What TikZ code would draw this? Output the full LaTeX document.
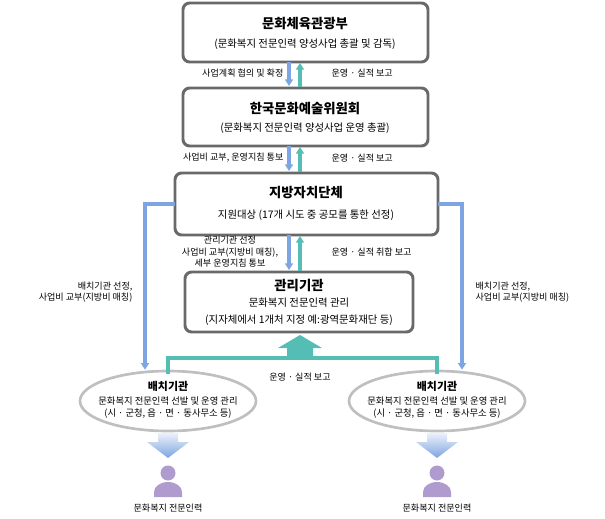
\documentclass[tikz,border=0pt]{standalone}
\usepackage{fontspec}
\setmainfont{Noto Sans CJK KR}
\usetikzlibrary{arrows.meta, shapes.geometric}
\definecolor{flowblue}{RGB}{125,165,225}
\definecolor{flowteal}{RGB}{85,190,180}
\definecolor{boxgray}{RGB}{105,105,105}
\definecolor{personpurple}{RGB}{175,155,205}
\tikzset{
  orgbox/.style={draw=boxgray, line width=2.2pt, rounded corners=5pt, fill=white},
  downflow/.style={draw=flowblue, line width=2.4pt, -{Triangle[width=6pt,length=5pt]}},
  upflow/.style={draw=flowteal, line width=2.4pt, -{Triangle[width=6pt,length=5pt]}},
  lbl/.style={font=\fontsize{6.8}{8.6}\selectfont, align=center, inner sep=1pt},
  ttl/.style={font=\fontsize{10}{11}\selectfont\bfseries, inner sep=0pt},
  sub/.style={font=\fontsize{7.8}{9}\selectfont, inner sep=0pt}
}
\begin{document}
\begin{tikzpicture}[x=0.75pt, y=-0.75pt]
  \useasboundingbox (0,0) rectangle (605,518);

  % boxes
  \draw[orgbox] (183,3) rectangle (428,62);
  \node[ttl] (min) at (305,24) {문화체육관광부};
  \node[sub] (minsub) at (305,44) {(문화복지 전문인력 양성사업 총괄 및 감독)};

  \draw[orgbox] (183,88) rectangle (428,146);
  \node[ttl] (arko) at (305,108) {한국문화예술위원회};
  \node[sub] (arkosub) at (305,128) {(문화복지 전문인력 양성사업 운영 총괄)};

  \draw[orgbox] (175,173) rectangle (438,235);
  \node[ttl] (local) at (306,193) {지방자치단체};
  \node[sub] (localsub) at (306,215) {지원대상 (17개 시도 중 공모를 통한 선정)};

  \draw[orgbox] (185,272) rectangle (413,332);
  \node[ttl] (mgr) at (299,286) {관리기관};
  \node[sub] (mgrsub) at (299,303) {문화복지 전문인력 관리};
  \node[sub] (mgrsub2) at (299,320) {(지자체에서 1개처 지정 예:광역문화재단 등)};

  % vertical flows
  \draw[downflow] (289,62) -- (289,86);
  \draw[upflow] (300,87) -- (300,63);
  \node[lbl, anchor=east] (l1) at (285,73) {사업계획 협의 및 확정};
  \node[lbl, anchor=west] (r1) at (330,73) {운영 · 실적 보고};

  \draw[downflow] (289,146) -- (289,171);
  \draw[upflow] (300,172) -- (300,147);
  \node[lbl, anchor=east] (l2) at (285,158) {사업비 교부, 운영지침 통보};
  \node[lbl, anchor=west] (r2) at (330,158) {운영 · 실적 보고};

  \draw[downflow] (289,235) -- (289,270);
  \draw[upflow] (300,271) -- (300,236);
  \node[lbl] (l3) at (230,252) {관리기관 선정\\사업비 교부(지방비 매칭),\\세부 운영지침 통보};
  \node[lbl, anchor=west] (r3) at (330,252) {운영 · 실적 취합 보고};

  % placement agencies
  \node[ellipse, draw=black!25, line width=2pt, fill=white, minimum width=176pt*0.75, minimum height=60pt*0.75] (pl) at (168,401) {};
  \node[ellipse, draw=black!25, line width=2pt, fill=white, minimum width=176pt*0.75, minimum height=60pt*0.75] (pr) at (437,401) {};
  \foreach \e in {pl,pr}{
    \node[font=\fontsize{8.2}{9}\selectfont\bfseries] at ([yshift=11pt]\e.center) {배치기관};
    \node[lbl, font=\fontsize{7}{8.8}\selectfont] at ([yshift=-5pt]\e.center) {문화복지 전문인력 선발 및 운영 관리\\(시 · 군청, 읍 · 면 · 동사무소 등)};
  }

  % side flows
  \draw[draw=flowblue, line width=2.4pt, -{Triangle[width=6pt,length=5pt]}] (175,204) -- (145,204) -- (pl.north -| 145,0);
  \draw[draw=flowblue, line width=2.4pt, -{Triangle[width=6pt,length=5pt]}] (438,204) -- (462,204) -- (pr.north -| 462,0);
  \node[lbl, align=right, anchor=east] (ls) at (134,292) {배치기관 선정,\\사업비 교부(지방비 매칭)};
  \node[lbl, align=left, anchor=west] (rs) at (474,292) {배치기관 선정,\\사업비 교부(지방비 매칭)};

  % report back
  \draw[flowteal, line width=2.4pt] (168,374) -- (168,358) -- (437,358) -- (437,374);
  \fill[flowteal] (287,358) -- (287,348) -- (278,348) -- (300,335) -- (322,348) -- (313,348) -- (313,358) -- cycle;
  \node[lbl] (rep) at (300,377) {운영 · 실적 보고};

  % staff
  \foreach \x/\n in {168/sl,437/sr}{
    \shade[top color=flowblue!15, bottom color=flowblue] (\x-10,433) -- (\x+10,433) -- (\x+10,442) -- (\x+21,442) -- (\x,458) -- (\x-21,442) -- (\x-10,442) -- cycle;
    \fill[personpurple] (\x,473) circle (7.5);
    \fill[personpurple] (\x-14,497) -- (\x-14,492) arc (180:360:14 and 10) -- (\x+14,497) -- cycle;
    \node[lbl] (\n) at (\x,508) {문화복지 전문인력};
  }
\end{tikzpicture}
\end{document}
